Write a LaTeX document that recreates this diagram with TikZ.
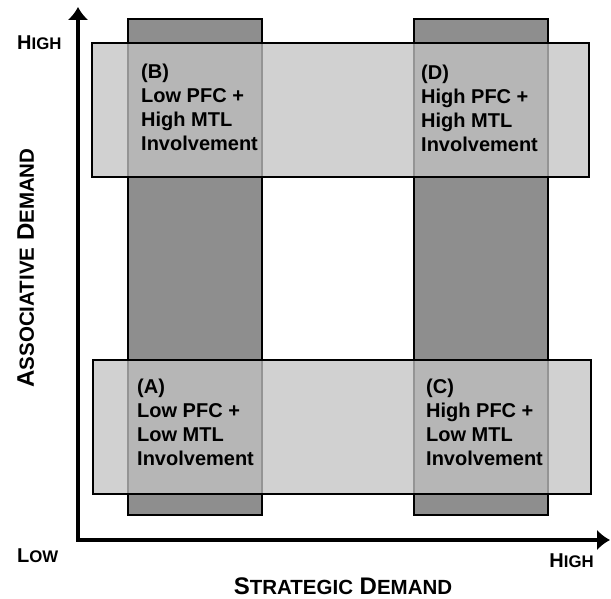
\documentclass[tikz,border=0pt]{standalone}
\usepackage{fontspec}
\setmainfont{Liberation Sans}
\usetikzlibrary{arrows.meta}
\newcommand{\hlbig}{\fontsize{20}{24}\selectfont}
\newcommand{\hlsm}{\fontsize{16.8}{20}\selectfont}
\newcommand{\axbig}{\fontsize{24}{28}\selectfont}
\newcommand{\axsm}{\fontsize{20.5}{24}\selectfont}
\tikzset{
  darkbar/.style={fill=darkfill, draw=black, line width=2pt},
  lightbar/.style={fill=lightfill, fill opacity=0.76, draw=black, draw opacity=1, line width=2pt},
  quad/.style={anchor=base west, align=left, inner sep=0pt, font=\bfseries\fontsize{20}{24}\selectfont},
  endlabel/.style={inner sep=0pt, font=\bfseries\hlbig},
  axlabel/.style={inner sep=0pt, font=\bfseries\axbig},
  axisline/.style={line width=4pt, {Latex[length=13pt,width=21pt]}-{Latex[length=13pt,width=21pt]}}
}
\definecolor{darkfill}{RGB}{142,142,142}
\definecolor{lightfill}{RGB}{195,195,195}
\begin{document}
\begin{tikzpicture}[x=1pt,y=-1pt]
\useasboundingbox (0,0) rectangle (611,599);
% dark vertical bars
\draw[darkbar] (128,19) rectangle (262,515);
\draw[darkbar] (414,19) rectangle (548,515);
% light horizontal bars
\draw[lightbar] (92,43) rectangle (589,177);
\draw[lightbar] (93,360) rectangle (591,494);
% axes
\coordinate (ytip) at (78,7);
\coordinate (origin) at (78,540);
\coordinate (xtip) at (610,540);
\draw[axisline, line join=miter] (ytip) -- (origin) -- (xtip);
% quadrant texts (anchor = baseline of last line)
\node[quad] (B) at (141,151) {(B)\\Low PFC +\\High MTL\\Involvement};
\node[quad] (D) at (421,152) {(D)\\High PFC +\\High MTL\\Involvement};
\node[quad] (A) at (137,465) {(A)\\Low PFC +\\Low MTL\\Involvement};
\node[quad] (C) at (426,465) {(C)\\High PFC +\\Low MTL\\Involvement};
% axis labels
\node[endlabel, anchor=base west] (yhigh) at (17,50) {H{\hlsm IGH}};
\node[endlabel, anchor=base west] (ylow) at (17,562) {L{\hlsm OW}};
\node[endlabel, anchor=base east] (xhigh) at (594,567) {H{\hlsm IGH}};
\node[axlabel, anchor=base] (xlabel) at (343,594) {S{\axsm TRATEGIC} D{\axsm EMAND}};
\node[axlabel, anchor=base, rotate=90] (ylabel) at (34,268) {A{\axsm SSOCIATIVE} D{\axsm EMAND}};
\end{tikzpicture}
\end{document}
